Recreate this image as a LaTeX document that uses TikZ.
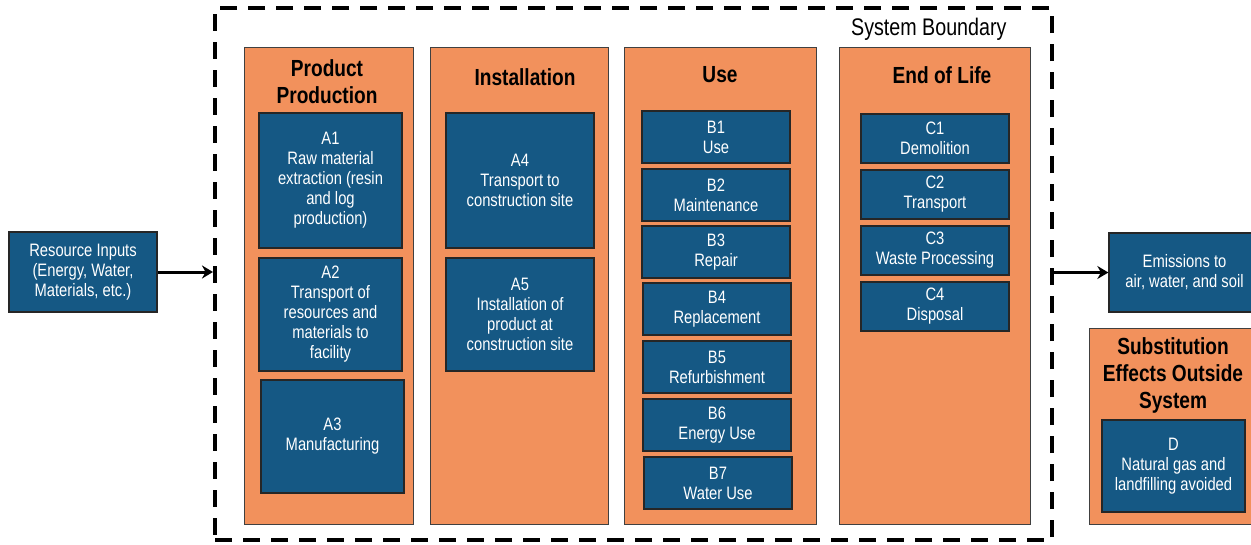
\documentclass[tikz,border=0pt]{standalone}
\usepackage{fontspec}
\setmainfont[FakeStretch=0.82]{Liberation Sans}
\usepackage{tikz}
\usetikzlibrary{arrows.meta,positioning,calc}
\definecolor{stageorange}{RGB}{242,145,92}
\definecolor{moduleblue}{RGB}{21,88,132}

\begin{document}
\begin{tikzpicture}[
    x=1pt, y=-1pt,
    stage/.style={rectangle, draw=black!75, fill=stageorange, line width=1pt, inner sep=0pt},
    module/.style={rectangle, draw=black!85, fill=moduleblue, line width=1.3pt, text=white, align=center, inner sep=0pt, font=\fontsize{18}{20}\selectfont},
    stage_title/.style={align=center, font=\fontsize{23.3}{27}\selectfont\bfseries},
    flow/.style={-{Stealth[length=11pt,width=13pt]}, line width=3pt}
]
\useasboundingbox (0,0) rectangle (1251,544);

% System boundary
\node[draw, line width=4pt, dash pattern=on 17pt off 11pt, minimum width=837pt, minimum height=532pt] (sysb) at (633.5,274) {};
\node[anchor=east, font=\fontsize{24}{27}\selectfont] (sysb_label) at (1010,29) {System Boundary};

% Stages
\node[stage, minimum width=169pt, minimum height=477pt] (prod) at (328.5,285.5) {};
\node[stage, minimum width=178pt, minimum height=477pt] (inst) at (519,285.5) {};
\node[stage, minimum width=192pt, minimum height=477pt] (use) at (720,285.5) {};
\node[stage, minimum width=191pt, minimum height=477pt] (eol) at (934.5,285.5) {};
\node[stage, minimum width=173pt, minimum height=196pt] (subst) at (1175.5,426) {};

% Stage titles
\node[stage_title] (prod_title) at (327,82) {Product\\Production};
\node[stage_title] (inst_title) at (525,77) {Installation};
\node[stage_title] (use_title) at (720,75) {Use};
\node[stage_title] (eol_title) at (942,75) {End of Life};
\node[stage_title] (subst_title) at (1173,375) {Substitution\\Effects Outside\\System};

% Modules A
\node[module, minimum width=143pt, minimum height=135pt] (a1) at (330.5,180.5) {A1\\Raw material\\extraction (resin\\and log\\production)};
\node[module, minimum width=143pt, minimum height=113pt] (a2) at (330.5,314.5) {A2\\Transport of\\resources and\\materials to\\facility};
\node[module, minimum width=143pt, minimum height=113pt] (a3) at (332.5,436.5) {A3\\Manufacturing};
\node[module, minimum width=148pt, minimum height=135pt] (a4) at (520,180.5) {A4\\Transport to\\construction site};
\node[module, minimum width=148pt, minimum height=113pt] (a5) at (520,314.5) {A5\\Installation of\\product at\\construction site};

% Modules B
\node[module, minimum width=148pt, minimum height=52pt] (b1) at (716,137) {B1\\Use};
\node[module, minimum width=148pt, minimum height=52pt] (b2) at (716,195) {B2\\Maintenance};
\node[module, minimum width=148pt, minimum height=52pt] (b3) at (716,252) {B3\\Repair};
\node[module, minimum width=148pt, minimum height=52pt] (b4) at (717,309) {B4\\Replacement};
\node[module, minimum width=148pt, minimum height=52pt] (b5) at (717,367) {B5\\Refurbishment};
\node[module, minimum width=148pt, minimum height=52pt] (b6) at (717,425) {B6\\Energy Use};
\node[module, minimum width=148pt, minimum height=52pt] (b7) at (718,483) {B7\\Water Use};

% Modules C
\node[module, minimum width=148pt, minimum height=49pt] (c1) at (935,138.5) {C1\\Demolition};
\node[module, minimum width=148pt, minimum height=49pt] (c2) at (935,194.5) {C2\\Transport};
\node[module, minimum width=148pt, minimum height=49pt] (c3) at (935,250.5) {C3\\Waste Processing};
\node[module, minimum width=148pt, minimum height=49pt] (c4) at (935,306.5) {C4\\Disposal};

% Module D and flows in/out
\node[module, minimum width=143pt, minimum height=92pt] (d) at (1173.5,466) {D\\Natural gas and\\landfilling avoided};
\node[module, minimum width=148pt, minimum height=80pt] (res) at (83,272) {Resource Inputs\\(Energy, Water,\\Materials, etc.)};
\node[module, minimum width=151pt, minimum height=79pt] (emis) at (1184.5,272.5) {Emissions to\\air, water, and soil};

% Edges
\draw[flow] (res) -- (res -| sysb.west);
\draw[flow] (sysb.east |- emis) -- (emis);
\end{tikzpicture}
\end{document}
